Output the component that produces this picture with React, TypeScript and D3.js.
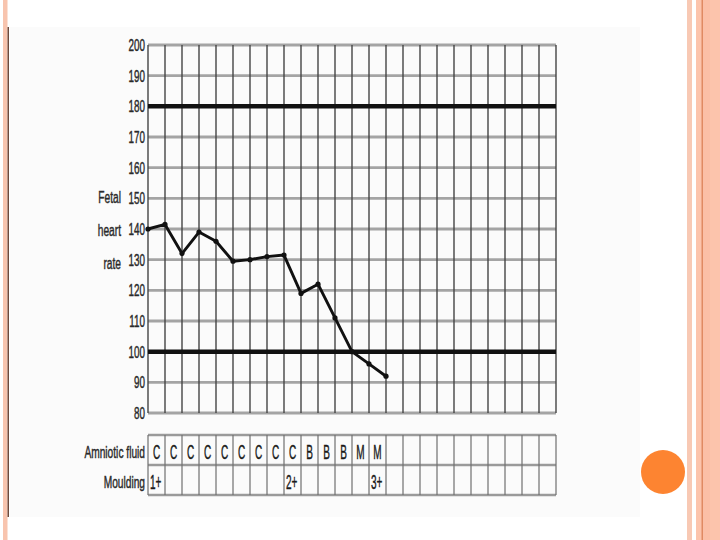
import React from "react";
import * as d3 from "d3";

const fhrValues: number[] = [140, 141.5, 132, 139, 136, 129.5, 130, 131, 131.5, 119, 122, 111, 100, 96, 92];
const yTicks: number[] = [80, 90, 100, 110, 120, 130, 140, 150, 160, 170, 180, 190, 200];
const alertLines: number[] = [180, 100];
const amnioticFluid: string[] = ["C", "C", "C", "C", "C", "C", "C", "C", "C", "B", "B", "B", "M", "M"];
const moulding: string[] = ["1+", "", "", "", "", "", "", "", "2+", "", "", "", "", "3+"];
const axisTitle: string[] = ["Fetal", "heart", "rate"];
const rowLabels: string[] = ["Amniotic fluid", "Moulding"];
const nCols = 24;

const FONT = "'Liberation Sans', Arial, sans-serif";

function Cond({ x, y, sx, size, anchor, children, fill = "#2a2a2a", sw = 0.45 }: any) {
  return (
    <text
      transform={`translate(${x},${y}) scale(${sx},1)`}
      textAnchor={anchor}
      dominantBaseline="central"
      fontFamily={FONT}
      fontSize={size}
      fill={fill}
      stroke={fill}
      strokeWidth={sw}
    >
      {children}
    </text>
  );
}

export default function App() {
  const x = d3.scaleLinear().domain([0, nCols]).range([148, 556]);
  const y = d3.scaleLinear().domain([80, 200]).range([413, 45]);
  const tableTop = 435;
  const tableMid = 465;
  const tableBot = 495;
  const cols = d3.range(nCols + 1);
  const line = d3
    .line<number>()
    .x((_, i) => x(i))
    .y((d) => y(d));

  return (
    <svg
      width={720}
      height={540}
      style={{ position: "absolute", left: 0, top: 0, background: "#ffffff" }}
    >
      {/* slide decorations */}
      <rect x={0} y={0} width={720} height={540} fill="#ffffff" />
      <rect x={3} y={0} width={4.5} height={540} fill="#f8c4ae" />
      <rect x={10} y={27} width={630} height={490} fill="#fbfbfb" />
      <rect x={7.5} y={27} width={1.5} height={490} fill="#6e4a3c" />
      <rect x={687} y={0} width={5} height={540} fill="#f8c9b4" />
      <rect x={696} y={0} width={24} height={540} fill="#fcc4ac" />
      <rect x={701.5} y={0} width={1.5} height={540} fill="#e08a62" />
      <rect x={703} y={0} width={7} height={540} fill="#fbbfa6" />
      <circle cx={663} cy={472} r={22} fill="#fd8431" />

      {/* horizontal grid lines */}
      {yTicks.map((t) => (
        <line key={"h" + t} x1={x(0)} x2={x(nCols)} y1={y(t)} y2={y(t)} stroke="#a4a4a4" strokeWidth={2.8} />
      ))}
      {/* vertical grid lines */}
      {cols.map((c) => (
        <line key={"v" + c} x1={x(c)} x2={x(c)} y1={y(200)} y2={y(80)} stroke="#444" strokeWidth={1.4} />
      ))}
      {/* alert lines */}
      {alertLines.map((t) => (
        <line key={"a" + t} x1={x(0)} x2={x(nCols)} y1={y(t)} y2={y(t)} stroke="#111" strokeWidth={4.5} />
      ))}

      {/* y tick labels */}
      {yTicks.map((t) => (
        <Cond key={"t" + t} x={145} y={y(t)} sx={0.58} size={17} anchor="end">
          {t}
        </Cond>
      ))}
      {axisTitle.map((s, i) => (
        <Cond key={"at" + i} x={121} y={197 + i * 33} sx={0.6} size={17} anchor="end">
          {s}
        </Cond>
      ))}

      {/* FHR trace */}
      <path d={line(fhrValues) || ""} fill="none" stroke="#111" strokeWidth={2.9} strokeLinejoin="round" />
      {fhrValues.map((v, i) => (
        <circle key={"p" + i} cx={x(i)} cy={y(v)} r={2.6} fill="#111" />
      ))}

      {/* table */}
      {[tableTop, tableMid, tableBot].map((ty, i) => (
        <line key={"th" + i} x1={x(0)} x2={x(nCols)} y1={ty} y2={ty} stroke="#9a9a9a" strokeWidth={2.4} />
      ))}
      {cols.map((c) => (
        <line key={"tv" + c} x1={x(c)} x2={x(c)} y1={tableTop} y2={tableBot} stroke="#707070" strokeWidth={1.2} />
      ))}
      {rowLabels.map((s, i) => (
        <Cond key={"rl" + i} x={145} y={452 + i * 30} sx={0.6} size={17} anchor="end">
          {s}
        </Cond>
      ))}
      {amnioticFluid.map((s, i) => (
        <Cond key={"af" + i} x={(x(i) + x(i + 1)) / 2} y={452} sx={0.5} size={20} anchor="middle" fill="#1a1a1a">
          {s}
        </Cond>
      ))}
      {moulding.map((s, i) =>
        s ? (
          <Cond key={"mo" + i} x={x(i) + 2} y={482} sx={0.5} size={20} anchor="start" fill="#1a1a1a">
            {s}
          </Cond>
        ) : null
      )}
    </svg>
  );
}
